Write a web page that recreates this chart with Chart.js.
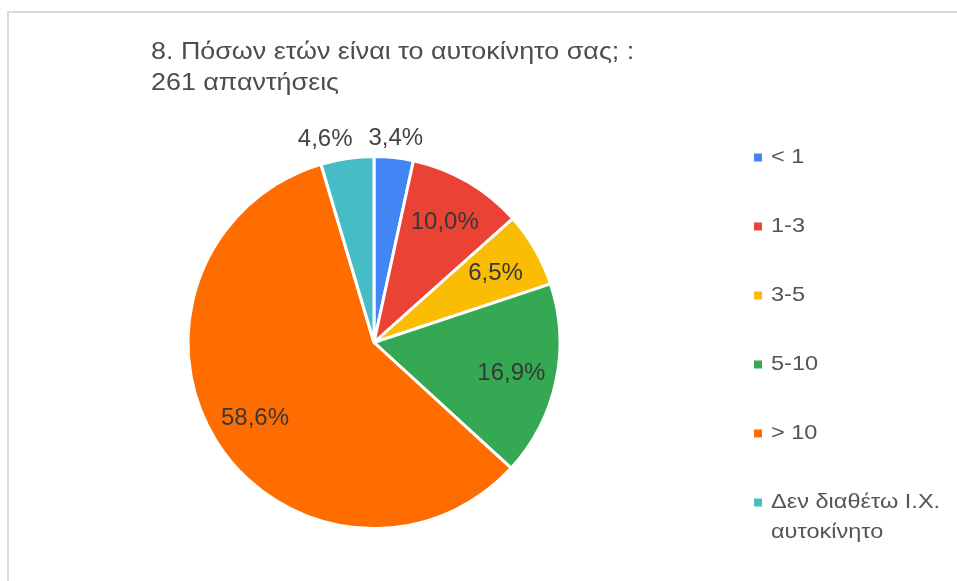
<!DOCTYPE html>
<html>
<head>
<meta charset="utf-8">
<script src="https://cdn.jsdelivr.net/npm/chart.js@4.4.1/dist/chart.umd.min.js"></script>
<style>
  html, body { margin: 0; padding: 0; background: #fff; }
  #wrap { position: relative; width: 957px; height: 581px; overflow: hidden; }
  #frame { position: absolute; left: 7px; top: 11px; right: -10px; bottom: -10px;
           border-top: 2px solid #dadada; border-left: 2px solid #dadada; }
  #ageChart { position: absolute; left: 0; top: 0; }
</style>
</head>
<body>
<div id="wrap">
  <div id="frame"></div>
  <canvas id="ageChart" width="957" height="581"></canvas>
</div>
<script>
(function(){
  const titleLines = ['8. Πόσων ετών είναι το αυτοκίνητο σας; :', '261 απαντήσεις'];
  const categories = ['< 1', '1-3', '3-5', '5-10', '> 10', 'Δεν διαθέτω Ι.Χ. αυτοκίνητο'];
  const shares = [3.4, 10.0, 6.5, 16.9, 58.6, 4.6]; // %
  const sliceColors = ['#4285f4', '#ea4335', '#fbbc04', '#34a853', '#ff6d01', '#46bdc6'];

  const FONT = '"Liberation Sans", Arial, sans-serif';
  Chart.defaults.font.family = FONT;

  function fmt(v) { return v.toFixed(1).replace('.', ',') + '%'; }

  // text drawn slightly wider than the stock face
  function wideText(ctx, text, x, y, sx) {
    ctx.save();
    ctx.translate(x, y);
    ctx.scale(sx, 1);
    ctx.fillText(text, 0, 0);
    ctx.restore();
  }

  // word-wrap a string to a max pixel width
  function wrap(ctx, text, maxW) {
    const words = text.split(' ');
    const lines = [];
    let cur = '';
    words.forEach(w => {
      const test = cur ? cur + ' ' + w : w;
      if (cur && ctx.measureText(test).width > maxW) { lines.push(cur); cur = w; }
      else cur = test;
    });
    if (cur) lines.push(cur);
    return lines;
  }

  // percentage labels: inside for big slices, above the pie for small ones
  const sliceLabels = {
    id: 'sliceLabels',
    afterDatasetsDraw(chart, args, opts) {
      const ctx = chart.ctx;
      const arcs = chart.getDatasetMeta(0).data;
      const vals = chart.data.datasets[0].data;
      const total = vals.reduce((a, b) => a + b, 0);
      ctx.save();
      ctx.font = opts.size + 'px ' + FONT;
      ctx.textBaseline = 'middle';
      ctx.textAlign = 'center';
      const placed = [];
      arcs.forEach((arc, i) => {
        const p = arc.getProps(['x', 'y', 'startAngle', 'endAngle', 'outerRadius'], true);
        const mid = (p.startAngle + p.endAngle) / 2;
        const text = fmt(vals[i]);
        if (vals[i] / total >= 0.05) {
          const r = p.outerRadius * 0.755;
          ctx.fillStyle = opts.insideColor;
          ctx.fillText(text, p.x + Math.cos(mid) * r, p.y + Math.sin(mid) * r + 1.5);
          return;
        }
        const r = p.outerRadius + 19;
        const lab = { text, x: p.x + Math.cos(mid) * r, y: p.y + Math.sin(mid) * r,
                      w: ctx.measureText(text).width };
        // a later label steps aside from the ones already placed
        placed.forEach(o => {
          const need = (o.w + lab.w) / 2 + opts.gap;
          if (Math.abs(o.y - lab.y) < opts.size && Math.abs(lab.x - o.x) < need) {
            lab.x = lab.x < o.x ? o.x - need : o.x + need;
          }
        });
        placed.push(lab);
      });
      ctx.fillStyle = opts.outsideColor;
      placed.forEach(l => ctx.fillText(l.text, l.x, l.y));
      ctx.restore();
    }
  };

  // title block and legend column
  const sideText = {
    id: 'sideText',
    afterDraw(chart, args, opts) {
      const ctx = chart.ctx;
      const colors = chart.data.datasets[0].backgroundColor;
      ctx.save();
      ctx.textBaseline = 'middle';
      ctx.textAlign = 'left';

      const t = opts.title;
      ctx.font = t.size + 'px ' + FONT;
      ctx.fillStyle = t.color;
      t.lines.forEach((line, j) => wideText(ctx, line, t.left, t.top + j * t.lineHeight, opts.stretch));

      const lg = opts.legend;
      ctx.font = lg.size + 'px ' + FONT;
      let y = lg.top;
      chart.data.labels.forEach((label, i) => {
        ctx.fillStyle = colors[i];
        ctx.fillRect(lg.left, y - lg.box / 2, lg.box, lg.box);
        ctx.fillStyle = lg.color;
        wrap(ctx, label, lg.maxWidth).forEach((line, j) => {
          wideText(ctx, line, lg.left + lg.box + 9, y + j * lg.lineHeight, opts.stretch);
        });
        y += lg.step;
      });
      ctx.restore();
    }
  };

  const el = document.getElementById('ageChart');
  new Chart(el.getContext('2d'), {
    type: 'pie',
    data: {
      labels: categories,
      datasets: [{
        data: shares,
        backgroundColor: sliceColors,
        borderColor: '#ffffff',
        borderWidth: 3
      }]
    },
    options: {
      responsive: false,
      animation: false,
      devicePixelRatio: 1,
      layout: { padding: { left: 150, right: 359, top: 155, bottom: 51 } },
      plugins: {
        legend: { display: false },
        tooltip: { enabled: false },
        sliceLabels: { size: 24, gap: 16, insideColor: '#383838', outsideColor: '#444444' },
        sideText: {
          stretch: 1.12,
          title: { lines: titleLines, left: 151, top: 52.5, lineHeight: 31, size: 24, color: '#4d4d4d' },
          legend: { left: 754, top: 157.5, step: 69, box: 8, size: 21, lineHeight: 30,
                    maxWidth: 160, color: '#555555' }
        }
      }
    },
    plugins: [sliceLabels, sideText]
  });
})();
</script>
</body>
</html>
